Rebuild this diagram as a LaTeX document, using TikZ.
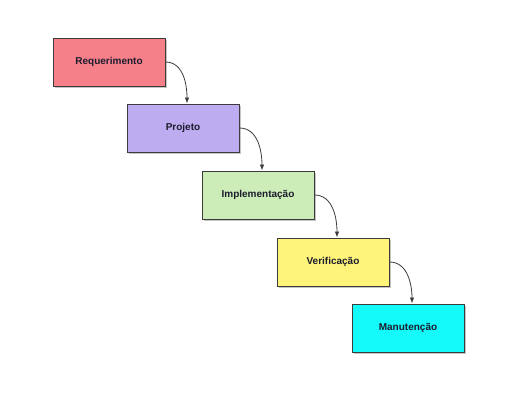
\documentclass[tikz,border=0pt]{standalone}
\usepackage{fontspec}
\setmainfont{Liberation Sans}
\usepackage{xcolor}
\usepackage{tikz}
\usetikzlibrary{arrows.meta,positioning,shadows}
\definecolor{reqpink}{RGB}{246,128,138}
\definecolor{projlilac}{RGB}{190,172,240}
\definecolor{implgreen}{RGB}{204,236,184}
\definecolor{verifyellow}{RGB}{254,244,122}
\definecolor{mancyan}{RGB}{20,250,250}
\definecolor{edgegray}{RGB}{60,60,60}
\definecolor{txtdark}{RGB}{28,28,45}

\begin{document}
\begin{tikzpicture}[x=1pt,y=-1pt,
    phase/.style={draw=edgegray,line width=.9pt,minimum width=112pt,minimum height=48pt,
      font=\bfseries\fontsize{10}{11}\selectfont,text=txtdark,
      drop shadow={shadow xshift=2pt,shadow yshift=-2.5pt,opacity=.45}},
    flow/.style={-{Latex[length=6pt,width=4.5pt]},line width=.8pt,draw=edgegray}]
      \useasboundingbox (0,0) rectangle (515,411);
      \fill[white] (0,0) rectangle (515,411);
      % fases do modelo cascata
      \foreach \n/\t/\c/\x/\y in {req/Requerimento/reqpink/109/62,
        proj/Projeto/projlilac/183/128,impl/Implementação/implgreen/258/195,
        verif/Verificação/verifyellow/333/262,man/Manutenção/mancyan/408/328}
        \node[phase,fill=\c] (\n) at (\x,\y) {\t};
      % ligacoes entre fases
      \foreach \a/\b in {req/proj,proj/impl,impl/verif,verif/man}
        \draw[flow] (\a.east) to[out=0,in=90] ([xshift=4pt]\b.north);
    \end{tikzpicture}
\end{document}
